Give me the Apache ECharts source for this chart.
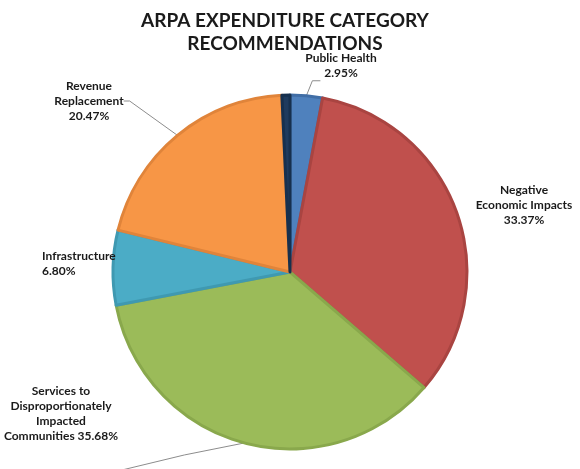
<!DOCTYPE html>
<html>
<head>
<meta charset="utf-8">
<script src="https://cdn.jsdelivr.net/npm/echarts@6/dist/echarts.min.js"></script>
<style>
  html, body { margin: 0; padding: 0; background: #fff; }
  #chart { width: 580px; height: 469px; }
</style>
</head>
<body>
<div id="chart"></div>
<script>
// categories, clockwise from 12 o'clock
var categories = [
  "Public Health",
  "Negative Economic Impacts",
  "Services to Disproportionately Impacted Communities",
  "Infrastructure",
  "Revenue Replacement",
  "Other"
];
// label text as wrapped in the picture
var labelNames = [
  "Public Health",
  "Negative\nEconomic Impacts",
  "Services to\nDisproportionately\nImpacted\nCommunities",
  "Infrastructure",
  "Revenue\nReplacement",
  ""
];
var shares = [2.95, 33.37, 35.68, 6.80, 20.47, 0.73];

var fills = ["#4f81bd", "#c0504d", "#9bbb59", "#4bacc6", "#f79646", "#1f3b5e"];
var edges = ["#416ea6", "#a94441", "#89a84c", "#3f99b1", "#e0843a", "#17304e"];

// where each label sits (x, y, align)
var labelSpots = [
  [341, 66, "center"],
  [524, 205, "center"],
  [61, 414, "center"],
  [42, 264, "left"],
  [89, 101, "center"],
  null
];

var chart = echarts.init(document.getElementById("chart"));

var pieData = categories.map(function (name, i) {
  return {
    name: name,
    value: shares[i],
    itemStyle: { color: fills[i], borderColor: edges[i], borderWidth: 3 },
    label: { show: i !== 5 },
    labelLine: { show: i === 0 || i === 2 || i === 4 }
  };
});

var option = {
  animation: false,
  title: {
    text: "ARPA EXPENDITURE CATEGORY\nRECOMMENDATIONS",
    left: 280,
    textAlign: "center",
    top: 4,
    textStyle: {
      fontFamily: "Lato",
      fontWeight: "bold",
      fontSize: 19,
      lineHeight: 23,
      color: "#1a1a1a"
    }
  },
  series: [
    {
      type: "pie",
      center: [290, 272],
      radius: 177,
      startAngle: 90,
      clockwise: true,
      data: pieData,
      label: {
        position: "outside",
        overflow: "none",
        fontFamily: "Lato",
        fontWeight: "bold",
        fontSize: 12,
        lineHeight: 15,
        color: "#1a1a1a",
        formatter: function (p) {
          var n = labelNames[p.dataIndex];
          var v = p.value.toFixed(2) + "%";
          return p.dataIndex === 2 ? n + " " + v : n + "\n" + v;
        }
      },
      labelLine: {
        lineStyle: { color: "#8c8c8c", width: 1 },
        length: 10,
        length2: 6
      },
      labelLayout: function (params) {
        var i = params.dataIndex;
        var s = labelSpots[i];
        if (!s) return {};
        var out = { x: s[0], y: s[1], align: s[2], verticalAlign: "middle" };
        var pts = params.labelLinePoints;
        if (pts && i === 0) {
          var a = pts[0];
          out.labelLinePoints = [a, [a[0] + 6, a[1] - 15], [a[0] + 14, a[1] - 15]];
        }
        if (pts && i === 2) {
          // leader runs off toward the lower-left corner
          var b = pts[0];
          out.labelLinePoints = [b, [b[0] - 60, b[1] + 12], [122, 470]];
        }
        return out;
      }
    }
  ]
};

chart.setOption(option);
</script>
</body>
</html>
